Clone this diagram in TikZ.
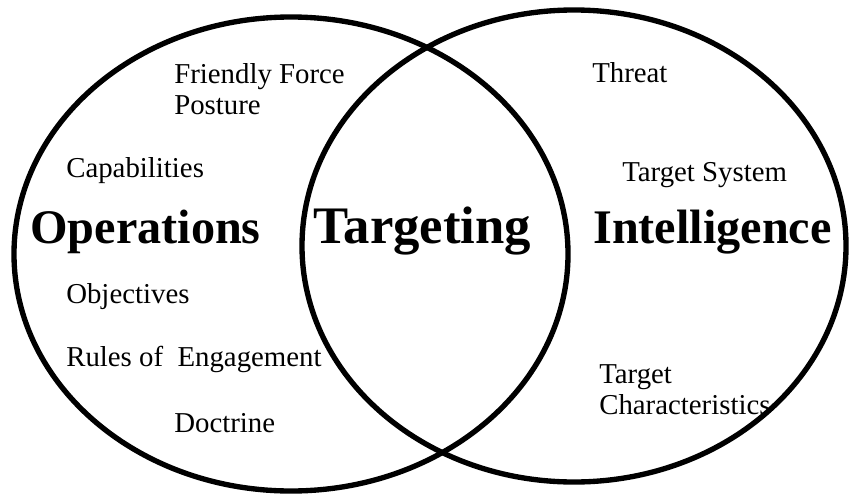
\documentclass[tikz,border=0pt]{standalone}
\usepackage{fontspec}
\setmainfont{Liberation Serif}
\tikzset{
    bigword/.style={anchor=base west, inner sep=0pt, font=\fontsize{34.3}{40}\selectfont\bfseries},
    smallword/.style={anchor=base west, inner sep=0pt, font=\fontsize{20.5}{24}\selectfont}
}
\begin{document}
\begin{tikzpicture}
    % Fix the page size
    \useasboundingbox (0,0) rectangle (21.225,12.4);

    % Left ellipse (operations)
    \draw[line width=3.8pt] (7.275,6.05) ellipse (6.925 and 5.925);

    % Right ellipse (intelligence)
    \draw[line width=3.8pt] (14.35,6.25) ellipse (6.8 and 5.9);

    % Headings
    \node[bigword] (ops) at (0.75,6.325) {Operations};
    \node[bigword, font=\fontsize{37.5}{44}\selectfont\bfseries] (tgt) at (7.825,6.325) {Targeting};
    \node[bigword] (intel) at (14.825,6.325) {Intelligence};

    % Operations items
    \node[smallword] (friendly) at (4.35,10.325) {Friendly Force};
    \node[smallword] (posture) at (4.35,9.55) {Posture};
    \node[smallword] (capab) at (1.65,7.975) {Capabilities};
    \node[smallword] (object) at (1.65,4.825) {Objectives};
    \node[smallword] (roe) at (1.65,3.25) {Rules of\ \ Engagement};
    \node[smallword] (doctrine) at (4.35,1.6) {Doctrine};

    % Intelligence items
    \node[smallword] (threat) at (14.8,10.35) {Threat};
    \node[smallword] (tsystem) at (15.55,7.875) {Target System};
    \node[smallword] (tchar1) at (14.975,2.825) {Target};
    \node[smallword] (tchar2) at (14.975,2.05) {Characteristics};

\end{tikzpicture}
\end{document}
